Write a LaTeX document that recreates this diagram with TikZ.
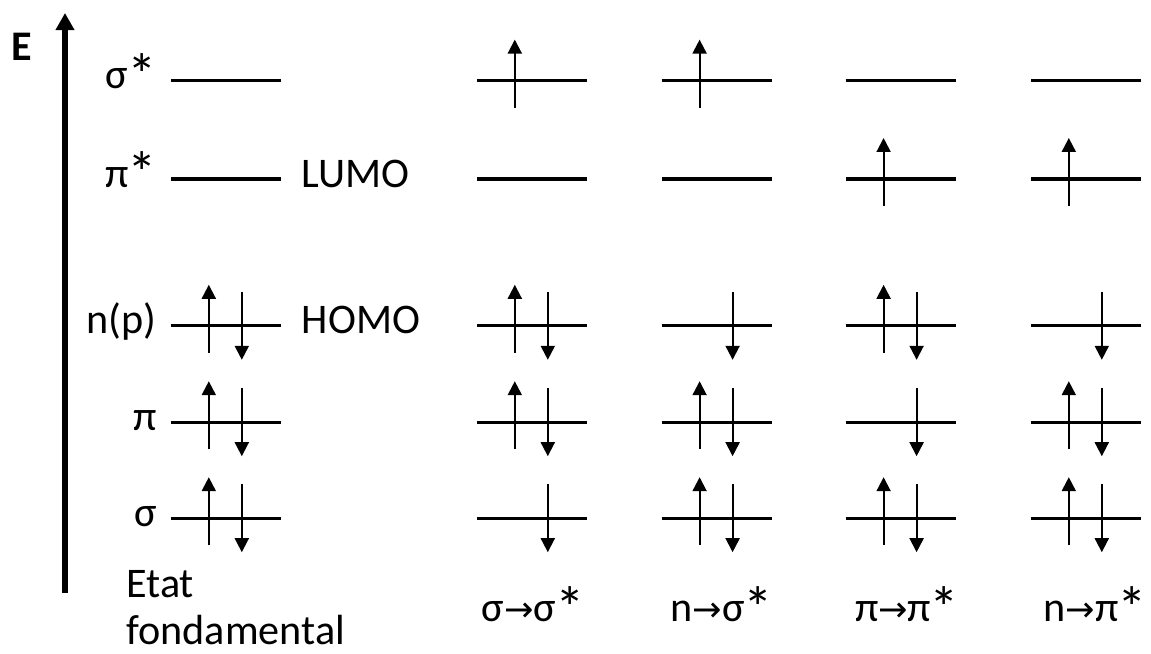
\documentclass[tikz,border=0pt]{standalone}
\usepackage{fontspec}
\setmainfont{Carlito}
\newfontfamily\symfont{DejaVu Sans}
\usepackage{tikz}
\usetikzlibrary{arrows.meta,positioning,calc}
\tikzset{
  orbital/.style={line width=2.4pt},
  spin/.style={line width=1.4pt,-{Triangle[width=0.35cm,length=0.35cm]}},
  lbl/.style={inner sep=0pt,font=\fontsize{30}{33.5}\selectfont},
}
\newcommand{\arr}{{\symfont\fontsize{25}{25}\selectfont →}}
\newcommand{\st}{\kern-0.03em\raisebox{-0.15em}{\scalebox{1.4}{*}}}

\begin{document}
\begin{tikzpicture}
  \useasboundingbox (0,0) rectangle (28.775,16.325);
  % energy axis
  \coordinate (axb) at (1.625,1.5);
  \coordinate (axt) at (1.625,16.0);
  \draw[line width=3.6pt,-{Triangle[width=0.45cm,length=0.43cm]}] (axb)--(axt);
  \node[lbl,font=\fontsize{30}{33.5}\selectfont\bfseries] (E) at (0.55,15.15) {E};
  % levels: g = ground state, a..d = excited states
  \foreach \c/\x in {g/4.27,a/11.92,b/16.54,c/21.14,d/25.77}
    \foreach \l/\y in {ss/14.31,ps/11.85,n/8.18,p/5.77,s/3.37} {
      \coordinate (\c-\l) at (\x,\y);
      \draw[orbital] (\c-\l)--++(2.75,0);
    }
  % electrons
  \foreach \o in {g-n,g-p,g-s,a-ss,a-n,a-p,b-ss,b-p,b-s,c-ps,c-n,c-s,d-ps,d-p,d-s}
    \draw[spin] ($(\o)+(0.95,-0.675)$)--++(0,1.7);
  \foreach \c in {g,a,b,c,d}
    \foreach \l in {n,p,s}
      \draw[spin] ($(\c-\l)+(1.775,0.85)$)--++(0,-1.7);
  % level names
  \node[lbl,anchor=mid east] (tss) at ($(g-ss)+(-0.35,-0.12)$) {σ\st};
  \node[lbl,anchor=mid east] (tps) at ($(g-ps)+(-0.35,-0.12)$) {π\st};
  \node[lbl,anchor=mid east] (tn) at ($(g-n)+(-0.35,-0.12)$) {n(p)};
  \node[lbl,anchor=mid east] (tp) at ($(g-p)+(-0.35,-0.12)$) {π};
  \node[lbl,anchor=mid east] (ts) at ($(g-s)+(-0.35,-0.12)$) {σ};
  \node[lbl,anchor=mid west] (lumo) at ($(g-ps)+(3.27,-0.12)$) {LUMO};
  \node[lbl,anchor=mid west] (homo) at ($(g-n)+(3.27,-0.12)$) {HOMO};
  % transitions
  \node[lbl,anchor=base west,align=left] (etat) at (3.15,0.22) {Etat\\fondamental};
  \node[lbl,anchor=base] (ta) at (13.33,0.78) {σ\arr σ\st};
  \node[lbl,anchor=base] (tb) at (18.04,0.78) {n\arr σ\st};
  \node[lbl,anchor=base] (tc) at (22.68,0.78) {π\arr π\st};
  \node[lbl,anchor=base] (td) at (27.38,0.78) {n\arr π\st};
\end{tikzpicture}
\end{document}
